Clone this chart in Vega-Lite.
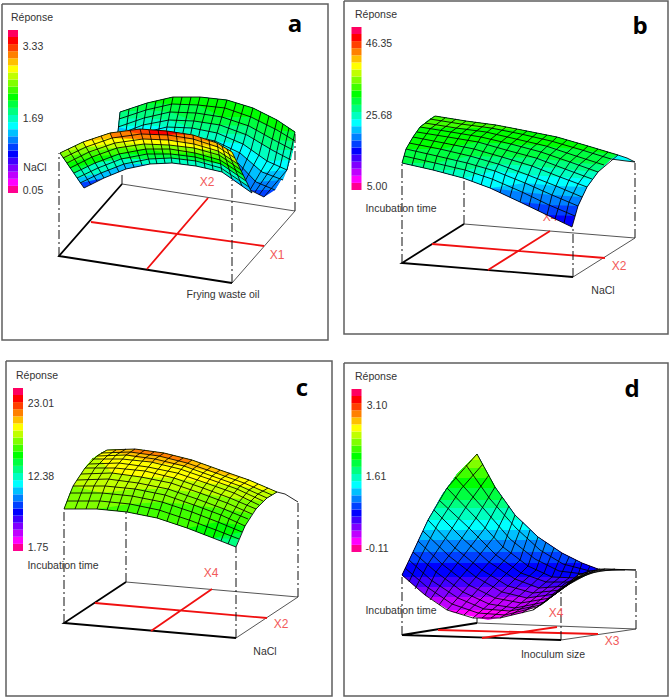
{"$schema":"https://vega.github.io/schema/vega-lite/v6.json","width":669,"height":698,"padding":0,"autosize":"none","background":"#ffffff","view":{"stroke":null},"projection":{"type":"identity","scale":1,"translate":[0,0]},
"layer":[
{"data":{"values":[{"panel":"a","geo":{"type":"LineString","coordinates":[[2,4],[328,4],[328,340],[2,340],[2,4]]}},{"panel":"b","geo":{"type":"LineString","coordinates":[[344,1],[668,1],[668,334],[344,334],[344,1]]}},{"panel":"c","geo":{"type":"LineString","coordinates":[[6,361],[332,361],[332,696],[6,696],[6,361]]}},{"panel":"d","geo":{"type":"LineString","coordinates":[[344,363],[668,363],[668,696],[344,696],[344,363]]}}]},"mark":{"type":"geoshape","filled":false,"stroke":"#5f5f5f","strokeWidth":1.5},"encoding":{"shape":{"field":"geo","type":"geojson"}}},
{"data":{"values":[{"panel":"a","geo":{"type":"MultiLineString","coordinates":[[[122,184],[295,211],[232,283]]]}},{"panel":"b","geo":{"type":"MultiLineString","coordinates":[[[464,224],[635,238],[573,277]]]}},{"panel":"c","geo":{"type":"MultiLineString","coordinates":[[[126,582],[298,597],[236,638]]]}},{"panel":"d","geo":{"type":"MultiLineString","coordinates":[[[477,623],[636,629],[561,640]]]}}]},"mark":{"type":"geoshape","filled":false,"stroke":"#555555","strokeWidth":1},"encoding":{"shape":{"field":"geo","type":"geojson"}}},
{"data":{"values":[{"panel":"a","geo":{"type":"LineString","coordinates":[[122,184],[59,256],[232,283]]}},{"panel":"b","geo":{"type":"LineString","coordinates":[[464,224],[402,263],[573,277]]}},{"panel":"c","geo":{"type":"LineString","coordinates":[[126,582],[64,623],[236,638]]}},{"panel":"d","geo":{"type":"LineString","coordinates":[[477,623],[402,635],[561,640]]}}]},"mark":{"type":"geoshape","filled":false,"stroke":"#000000","strokeWidth":1.8},"encoding":{"shape":{"field":"geo","type":"geojson"}}},
{"data":{"values":[{"panel":"a","geo":{"type":"MultiLineString","coordinates":[[[91,222],[264,246]],[[208,198],[147,269]]]}},{"panel":"b","geo":{"type":"MultiLineString","coordinates":[[[432,244],[605,258]],[[550,231],[488,270]]]}},{"panel":"c","geo":{"type":"MultiLineString","coordinates":[[[95,603],[267,618]],[[212,589],[151,631]]]}},{"panel":"d","geo":{"type":"MultiLineString","coordinates":[[[438,630],[598,634]],[[557,627],[482,638]]]}}]},"mark":{"type":"geoshape","filled":false,"stroke":"#f01010","strokeWidth":1.8},"encoding":{"shape":{"field":"geo","type":"geojson"}}},
{"data":{"values":[{"panel":"a","geo":{"type":"MultiLineString","coordinates":[[[59,256],[59,153]],[[232,283],[232,180]],[[295,211],[295,132]],[[122,184],[122,172]]]}},{"panel":"b","geo":{"type":"MultiLineString","coordinates":[[[402,263],[402,163]],[[573,277],[573,227]],[[635,238],[635,163]],[[464,224],[464,177]]]}},{"panel":"c","geo":{"type":"MultiLineString","coordinates":[[[64,623],[64,509]],[[236,638],[236,547]],[[298,597],[298,502]],[[126,582],[126,512]]]}},{"panel":"d","geo":{"type":"MultiLineString","coordinates":[[[402,635],[402,577]],[[561,640],[561,592]],[[636,629],[636,571]],[[477,623],[477,618]]]}}]},"mark":{"type":"geoshape","filled":false,"stroke":"#111111","strokeWidth":1,"strokeDash":[9,3,2,3]},"encoding":{"shape":{"field":"geo","type":"geojson"}}},
{"data":{"values":[{"t":"X1","x":277,"y":255},{"t":"X2","x":207,"y":182},{"t":"X4","x":550,"y":217},{"t":"X2","x":619,"y":266},{"t":"X4","x":211,"y":573},{"t":"X2","x":281,"y":624},{"t":"X4","x":556,"y":613},{"t":"X3","x":612,"y":641}]},"mark":{"type":"text","font":"Liberation Sans","fontSize":12,"color":"#f25a5a","align":"center","baseline":"middle"},"encoding":{"longitude":{"field":"x","type":"quantitative"},"latitude":{"field":"y","type":"quantitative"},"text":{"field":"t"}}},
{"data":{"values":[
{"level":6,"geo":{"type":"Polygon","coordinates":[[[120,112],[147,103],[173,97],[200,97],[227,100],[253,108],[277,120],[295,132],[293,150],[287,170],[275,190],[264,197],[250,190],[233,170],[210,158],[187,152],[163,150],[138,155],[114,165],[120,112]]]}},
{"level":7,"geo":{"type":"Polygon","coordinates":[[[120,112],[147,103],[173,97],[200,97],[227,100],[253,108],[277,120],[295,132],[293,150],[287,170],[275,190],[250,190],[233,170],[210,158],[187,152],[163,150],[138,155],[114,165],[120,112]]]}},
{"level":8,"geo":{"type":"Polygon","coordinates":[[[120,112],[147,103],[173,97],[200,97],[227,100],[253,108],[277,120],[295,132],[293,150],[287,170],[283,180],[256,182],[236,161],[210,158],[187,152],[164,142],[141,140],[117,135],[120,112]]]}},
{"level":9,"geo":{"type":"Polygon","coordinates":[[[120,112],[147,103],[173,97],[200,97],[227,100],[253,108],[277,120],[295,132],[293,150],[287,170],[262,172],[240,153],[212,149],[189,144],[166,135],[142,133],[118,127],[120,112]]]}},
{"level":10,"geo":{"type":"Polygon","coordinates":[[[120,112],[147,103],[173,97],[200,97],[227,100],[253,108],[277,120],[295,132],[293,150],[291,160],[267,161],[243,144],[215,141],[191,136],[167,127],[143,125],[118,127],[120,112]]]}},
{"level":11,"geo":{"type":"Polygon","coordinates":[[[120,112],[147,103],[173,97],[200,97],[227,100],[253,108],[277,120],[295,132],[293,150],[272,150],[247,135],[217,133],[192,128],[169,120],[144,118],[119,119],[120,112]]]}},
{"level":12,"geo":{"type":"Polygon","coordinates":[[[120,112],[147,103],[173,97],[200,97],[227,100],[253,108],[277,120],[295,132],[295,141],[274,140],[249,126],[220,125],[194,121],[170,112],[146,110],[120,112]]]}},
{"level":13,"geo":{"type":"Polygon","coordinates":[[[147,103],[173,97],[200,97],[227,100],[253,108],[277,120],[295,132],[277,130],[251,117],[222,117],[198,105],[172,104],[147,103]]]}}
]},"mark":{"type":"geoshape","stroke":null},"encoding":{"shape":{"field":"geo","type":"geojson"},"color":{"field":"level","type":"ordinal","legend":null,"scale":{"domain":[0,1,2,3,4,5,6,7,8,9,10,11,12,13,14,15,16,17,18,19,20,21,22],"range":["#ff0090","#ff00ff","#c000ff","#8000ff","#4000ff","#0000ff","#0040ff","#0080ff","#00c0ff","#00ffff","#00ffc0","#00ff80","#00ff40","#00ff00","#40ff00","#80ff00","#c0ff00","#ffff00","#ffc000","#ff8000","#ff4000","#ff0000","#ff0060"]}}}},
{"data":{"values":[{"panel":"a","part":"back","geo":{"type":"MultiLineString","coordinates":[
[[120,112],[147,103],[173,97],[200,97],[227,100],[253,108],[277,120],[295,132]],
[[119,119],[146,110],[172,104],[198,105],[225,108],[251,117],[277,130],[295,141]],
[[118,127],[144,118],[170,112],[196,113],[222,117],[249,126],[274,140],[293,150]],
[[117,135],[143,125],[169,120],[194,121],[220,125],[247,135],[272,150],[291,160]],
[[117,142],[142,133],[167,127],[192,128],[217,133],[243,144],[267,161],[287,170]],
[[116,150],[141,140],[166,135],[191,136],[215,141],[240,153],[262,172],[283,180]],
[[115,157],[139,147],[164,142],[189,144],[212,149],[236,161],[256,182],[275,190]],
[[114,165],[138,155],[163,150],[187,152],[210,158],[233,170],[250,190],[264,197]],
[[120,112],[117,142],[114,165]],[[129,109],[125,139],[122,162]],[[138,106],[134,136],[130,158]],[[147,103],[142,133],[138,155]],[[156,101],[150,131],[146,153]],[[164,99],[159,129],[155,152]],[[173,97],[167,127],[163,150]],[[182,97],[175,127],[171,151]],[[191,97],[184,128],[179,151]],[[200,97],[192,128],[187,152]],[[209,98],[200,130],[195,154]],[[218,99],[209,131],[202,156]],[[227,100],[217,133],[210,158]],[[236,103],[226,137],[218,162]],[[244,105],[234,140],[225,166]],[[253,108],[243,144],[233,170]],[[261,112],[251,150],[239,177]],[[269,116],[259,155],[244,183]],[[277,120],[267,161],[250,190]],[[283,124],[274,164],[255,192]],[[289,128],[280,167],[259,195]],[[295,132],[287,170],[264,197]]
]}}]},"mark":{"type":"geoshape","filled":false,"stroke":"#000000","strokeWidth":1,"strokeOpacity":0.85},"encoding":{"shape":{"field":"geo","type":"geojson"}}},
{"data":{"values":[
{"level":6,"geo":{"type":"Polygon","coordinates":[[[60,153],[83,142],[110,133],[140,129],[167,131],[193,135],[217,143],[232,152],[252,193],[222,172],[196,166],[172,163],[150,164],[126,169],[104,178],[84,188],[60,153]]]}},
{"level":8,"geo":{"type":"Polygon","coordinates":[[[60,153],[83,142],[110,133],[140,129],[167,131],[193,135],[217,143],[232,152],[252,193],[222,172],[196,166],[172,163],[150,164],[126,169],[104,178],[80,183],[60,153]]]}},
{"level":10,"geo":{"type":"Polygon","coordinates":[[[60,153],[83,142],[110,133],[140,129],[167,131],[193,135],[217,143],[232,152],[249,187],[222,172],[196,166],[172,163],[150,164],[124,164],[101,173],[77,178],[60,153]]]}},
{"level":12,"geo":{"type":"Polygon","coordinates":[[[60,153],[83,142],[110,133],[140,129],[167,131],[193,135],[217,143],[232,152],[246,181],[221,164],[196,161],[171,158],[149,159],[121,159],[95,163],[74,173],[60,153]]]}},
{"level":13,"geo":{"type":"Polygon","coordinates":[[[60,153],[83,142],[110,133],[140,129],[167,131],[193,135],[217,143],[232,152],[243,175],[221,164],[195,157],[171,154],[147,154],[119,154],[95,163],[70,168],[60,153]]]}},
{"level":14,"geo":{"type":"Polygon","coordinates":[[[60,153],[83,142],[110,133],[140,129],[167,131],[193,135],[217,143],[232,152],[241,170],[220,160],[195,153],[171,154],[146,149],[119,154],[92,157],[67,163],[60,153]]]}},
{"level":15,"geo":{"type":"Polygon","coordinates":[[[60,153],[83,142],[110,133],[140,129],[167,131],[193,135],[217,143],[232,152],[238,164],[219,155],[195,153],[170,149],[146,149],[117,148],[89,152],[63,158],[60,153]]]}},
{"level":16,"geo":{"type":"Polygon","coordinates":[[[60,153],[83,142],[110,133],[140,129],[167,131],[193,135],[217,143],[232,152],[238,164],[218,151],[194,148],[169,145],[144,144],[117,148],[86,147],[60,153]]]}},
{"level":17,"geo":{"type":"Polygon","coordinates":[[[83,142],[110,133],[140,129],[167,131],[193,135],[217,143],[232,152],[235,158],[218,151],[194,148],[169,145],[144,144],[115,143],[86,147],[83,142]]]}},
{"level":18,"geo":{"type":"Polygon","coordinates":[[[83,142],[110,133],[140,129],[167,131],[193,135],[217,143],[232,152],[218,147],[194,144],[168,140],[143,139],[112,138],[83,142]]]}},
{"level":19,"geo":{"type":"Polygon","coordinates":[[[110,133],[140,129],[167,131],[193,135],[217,143],[193,139],[168,140],[143,139],[112,138],[110,133]]]}},
{"level":20,"geo":{"type":"Polygon","coordinates":[[[125,131],[140,129],[167,131],[193,135],[168,135],[141,134],[125,131]]]}},
{"level":21,"geo":{"type":"Polygon","coordinates":[[[150,130],[167,131],[180,133],[168,135],[150,134],[150,130]]]}},
{"level":5,"geo":{"type":"Polygon","coordinates":[[[435,116],[466,121],[496,125],[527,131],[557,137],[588,146],[618,155],[611,159],[598,172],[587,187],[578,206],[572,227],[547,215],[520,202],[490,188],[463,178],[433,170],[402,163],[406,149],[413,137],[420,127],[430,119],[435,116]]]}},
{"level":6,"geo":{"type":"Polygon","coordinates":[[[435,116],[466,121],[496,125],[527,131],[557,137],[588,146],[618,155],[611,159],[598,172],[587,187],[578,206],[575,216],[547,215],[520,202],[490,188],[463,178],[433,170],[402,163],[406,149],[413,137],[420,127],[430,119],[435,116]]]}},
{"level":7,"geo":{"type":"Polygon","coordinates":[[[435,116],[466,121],[496,125],[527,131],[557,137],[588,146],[618,155],[611,159],[598,172],[587,187],[578,206],[549,205],[520,202],[490,188],[463,178],[433,170],[402,163],[406,149],[413,137],[420,127],[430,119],[435,116]]]}},
{"level":8,"geo":{"type":"Polygon","coordinates":[[[435,116],[466,121],[496,125],[527,131],[557,137],[588,146],[618,155],[611,159],[598,172],[587,187],[582,197],[552,195],[522,192],[490,188],[463,178],[433,170],[402,163],[406,149],[413,137],[420,127],[430,119],[435,116]]]}},
{"level":9,"geo":{"type":"Polygon","coordinates":[[[435,116],[466,121],[496,125],[527,131],[557,137],[588,146],[618,155],[611,159],[598,172],[587,187],[556,186],[525,183],[490,188],[463,178],[433,170],[402,163],[406,149],[413,137],[420,127],[430,119],[435,116]]]}},
{"level":10,"geo":{"type":"Polygon","coordinates":[[[435,116],[466,121],[496,125],[527,131],[557,137],[588,146],[618,155],[611,159],[598,172],[592,179],[560,177],[528,175],[495,171],[463,178],[433,170],[402,163],[406,149],[413,137],[420,127],[430,119],[435,116]]]}},
{"level":11,"geo":{"type":"Polygon","coordinates":[[[435,116],[466,121],[496,125],[527,131],[557,137],[588,146],[618,155],[611,159],[598,172],[565,169],[532,166],[498,164],[465,170],[433,170],[402,163],[406,149],[413,137],[420,127],[430,119],[435,116]]]}},
{"level":12,"geo":{"type":"Polygon","coordinates":[[[435,116],[466,121],[496,125],[527,131],[557,137],[588,146],[618,155],[611,159],[604,165],[570,162],[536,158],[502,157],[470,156],[435,163],[402,163],[406,149],[413,137],[420,127],[430,119],[435,116]]]}},
{"level":13,"geo":{"type":"Polygon","coordinates":[[[435,116],[466,121],[496,125],[527,131],[557,137],[588,146],[618,155],[582,150],[546,146],[511,144],[478,142],[440,149],[406,149],[413,137],[420,127],[430,119],[435,116]]]}},
{"level":14,"geo":{"type":"Polygon","coordinates":[[[435,116],[466,121],[496,125],[527,131],[491,128],[456,128],[420,127],[430,119],[435,116]]]}},
{"level":9,"geo":{"type":"Polygon","coordinates":[[[618,155],[627,158],[635,162],[626,161],[611,159],[618,155]]]}},
{"level":11,"geo":{"type":"Polygon","coordinates":[[[107,450],[135,449],[164,453],[192,460],[220,470],[249,480],[277,492],[267,498],[259,505],[252,514],[245,526],[239,539],[236,547],[213,538],[187,528],[157,518],[127,512],[97,509],[64,509],[70,493],[77,480],[85,468],[92,459],[101,453],[107,450]]]}},
{"level":12,"geo":{"type":"Polygon","coordinates":[[[107,450],[135,449],[164,453],[192,460],[220,470],[249,480],[277,492],[267,498],[259,505],[252,514],[245,526],[239,539],[213,538],[187,528],[157,518],[127,512],[97,509],[64,509],[70,493],[77,480],[85,468],[92,459],[101,453],[107,450]]]}},
{"level":13,"geo":{"type":"Polygon","coordinates":[[[107,450],[135,449],[164,453],[192,460],[220,470],[249,480],[277,492],[267,498],[259,505],[252,514],[245,526],[242,532],[213,538],[187,528],[157,518],[127,512],[97,509],[64,509],[70,493],[77,480],[85,468],[92,459],[101,453],[107,450]]]}},
{"level":14,"geo":{"type":"Polygon","coordinates":[[[107,450],[135,449],[164,453],[192,460],[220,470],[249,480],[277,492],[267,498],[259,505],[252,514],[245,526],[218,522],[187,528],[157,518],[127,512],[97,509],[64,509],[70,493],[77,480],[85,468],[92,459],[101,453],[107,450]]]}},
{"level":15,"geo":{"type":"Polygon","coordinates":[[[107,450],[135,449],[164,453],[192,460],[220,470],[249,480],[277,492],[267,498],[259,505],[252,514],[224,509],[194,505],[162,502],[130,504],[97,509],[64,509],[70,493],[77,480],[85,468],[92,459],[101,453],[107,450]]]}},
{"level":16,"geo":{"type":"Polygon","coordinates":[[[107,450],[135,449],[164,453],[192,460],[220,470],[249,480],[277,492],[267,498],[263,501],[230,498],[200,493],[168,489],[135,489],[102,493],[73,486],[77,480],[85,468],[92,459],[101,453],[107,450]]]}},
{"level":17,"geo":{"type":"Polygon","coordinates":[[[107,450],[135,449],[164,453],[192,460],[220,470],[249,480],[277,492],[240,486],[206,483],[174,478],[141,477],[112,473],[97,456],[101,453],[107,450]]]}},
{"level":18,"geo":{"type":"Polygon","coordinates":[[[107,450],[135,449],[164,453],[192,460],[220,470],[249,480],[216,473],[184,466],[151,462],[126,455],[107,450]]]}},
{"level":19,"geo":{"type":"Polygon","coordinates":[[[135,449],[164,453],[192,460],[187,463],[159,456],[130,452],[135,449]]]}},
{"level":1,"geo":{"type":"Polygon","coordinates":[[[402,575],[425,595],[452,612],[488,620],[522,613],[545,602],[561,590],[578,575],[598,569],[635,570],[598,569],[582,563],[562,553],[538,537],[515,515],[495,487],[477,454],[458,473],[442,495],[428,520],[413,552],[402,575]]]}},
{"level":2,"geo":{"type":"Polygon","coordinates":[[[449,610],[528,610],[545,602],[561,590],[578,575],[598,569],[635,570],[598,569],[582,563],[562,553],[538,537],[515,515],[495,487],[477,454],[458,473],[442,495],[428,520],[413,552],[402,575],[425,595],[449,610]]]}},
{"level":3,"geo":{"type":"Polygon","coordinates":[[[428,597],[552,597],[561,590],[578,575],[598,569],[635,570],[598,569],[582,563],[562,553],[538,537],[515,515],[495,487],[477,454],[458,473],[442,495],[428,520],[413,552],[402,575],[425,595],[428,597]]]}},
{"level":4,"geo":{"type":"Polygon","coordinates":[[[416,587],[564,587],[578,575],[598,569],[635,570],[598,569],[582,563],[562,553],[538,537],[515,515],[495,487],[477,454],[458,473],[442,495],[428,520],[413,552],[402,575],[416,587]]]}},
{"level":5,"geo":{"type":"Polygon","coordinates":[[[404,577],[576,577],[578,575],[598,569],[635,570],[598,569],[582,563],[562,553],[538,537],[515,515],[495,487],[477,454],[458,473],[442,495],[428,520],[413,552],[402,575],[404,577]]]}},
{"level":6,"geo":{"type":"Polygon","coordinates":[[[408,563],[582,563],[562,553],[538,537],[515,515],[495,487],[477,454],[458,473],[442,495],[428,520],[413,552],[408,563]]]}},
{"level":7,"geo":{"type":"Polygon","coordinates":[[[413,552],[560,552],[538,537],[515,515],[495,487],[477,454],[458,473],[442,495],[428,520],[413,552]]]}},
{"level":8,"geo":{"type":"Polygon","coordinates":[[[419,540],[542,540],[538,537],[515,515],[495,487],[477,454],[458,473],[442,495],[428,520],[419,540]]]}},
{"level":9,"geo":{"type":"Polygon","coordinates":[[[423,530],[531,530],[515,515],[495,487],[477,454],[458,473],[442,495],[428,520],[423,530]]]}},
{"level":10,"geo":{"type":"Polygon","coordinates":[[[428,520],[519,520],[515,515],[495,487],[477,454],[458,473],[442,495],[428,520]]]}},
{"level":11,"geo":{"type":"Polygon","coordinates":[[[435,508],[510,508],[495,487],[477,454],[458,473],[442,495],[435,508]]]}},
{"level":12,"geo":{"type":"Polygon","coordinates":[[[439,500],[504,500],[495,487],[477,454],[458,473],[442,495],[439,500]]]}},
{"level":13,"geo":{"type":"Polygon","coordinates":[[[447,488],[496,488],[477,454],[458,473],[447,488]]]}},
{"level":14,"geo":{"type":"Polygon","coordinates":[[[454,478],[490,478],[477,454],[458,473],[454,478]]]}},
{"level":15,"geo":{"type":"Polygon","coordinates":[[[463,468],[484,468],[477,454],[463,468]]]}},
{"level":16,"geo":{"type":"Polygon","coordinates":[[[471,460],[480,460],[477,454],[471,460]]]}}
]},"mark":{"type":"geoshape","stroke":null},"encoding":{"shape":{"field":"geo","type":"geojson"},"color":{"field":"level","type":"ordinal","legend":null,"scale":{"domain":[0,1,2,3,4,5,6,7,8,9,10,11,12,13,14,15,16,17,18,19,20,21,22],"range":["#ff0090","#ff00ff","#c000ff","#8000ff","#4000ff","#0000ff","#0040ff","#0080ff","#00c0ff","#00ffff","#00ffc0","#00ff80","#00ff40","#00ff00","#40ff00","#80ff00","#c0ff00","#ffff00","#ffc000","#ff8000","#ff4000","#ff0000","#ff0060"]}}}},
{"data":{"values":[
{"panel":"a","geo":{"type":"MultiLineString","coordinates":[
[[60,153],[83,142],[110,133],[140,129],[167,131],[193,135],[217,143],[232,152]],
[[63,158],[86,147],[112,138],[141,134],[168,135],[193,139],[218,147],[235,158]],
[[67,163],[89,152],[115,143],[143,139],[168,140],[194,144],[218,151],[238,164]],
[[70,168],[92,157],[117,148],[144,144],[169,145],[194,148],[219,155],[241,170]],
[[74,173],[95,163],[119,154],[146,149],[170,149],[195,153],[220,160],[243,175]],
[[77,178],[98,168],[121,159],[147,154],[171,154],[195,157],[221,164],[246,181]],
[[80,183],[101,173],[124,164],[149,159],[171,158],[196,161],[221,168],[249,187]],
[[84,188],[104,178],[126,169],[150,164],[172,163],[196,166],[222,172],[252,193]],
[[60,153],[84,188]],[[68,149],[91,185]],[[75,146],[97,181]],[[83,142],[104,178]],[[92,139],[111,175]],[[101,136],[119,172]],[[110,133],[126,169]],[[120,132],[134,167]],[[130,130],[142,165]],[[140,129],[150,164]],[[149,130],[157,164]],[[158,130],[165,163]],[[167,131],[172,163]],[[176,132],[180,164]],[[184,133],[188,165]],[[193,135],[196,166]],[[201,138],[205,168]],[[209,140],[213,170]],[[217,143],[222,172]],[[222,146],[232,179]],[[227,149],[242,186]],[[232,152],[252,193]]
]}},
{"panel":"b","geo":{"type":"MultiLineString","coordinates":[
[[402,163],[433,170],[463,178],[490,188],[520,202],[547,215],[572,227]],
[[404,156],[435,163],[465,170],[492,179],[522,192],[549,205],[575,216]],
[[406,149],[437,156],[467,163],[495,171],[525,183],[552,195],[578,206]],
[[409,143],[440,149],[470,156],[498,164],[528,175],[556,186],[582,197]],
[[413,137],[444,143],[474,149],[502,157],[532,166],[560,177],[587,187]],
[[417,132],[448,137],[478,142],[506,150],[536,158],[565,169],[592,179]],
[[420,127],[451,132],[481,137],[511,144],[541,152],[570,162],[598,172]],
[[425,123],[456,128],[486,132],[516,139],[546,146],[576,156],[604,165]],
[[430,119],[461,124],[491,128],[521,134],[551,141],[582,150],[611,159]],
[[435,116],[466,121],[496,125],[527,131],[557,137],[588,146],[618,155],[627,158],[635,162],[626,161],[611,159]],
[[402,163],[406,149],[413,137],[420,127],[435,116]],[[412,165],[416,151],[423,139],[430,129],[445,118]],[[423,168],[427,154],[434,141],[441,130],[456,119]],[[433,170],[437,156],[444,143],[451,132],[466,121]],[[443,173],[447,158],[454,145],[461,134],[476,122]],[[453,175],[457,161],[464,147],[471,135],[486,124]],[[463,178],[467,163],[474,149],[481,137],[496,125]],[[472,181],[476,166],[483,152],[491,139],[506,127]],[[481,185],[486,168],[493,154],[501,142],[517,129]],[[490,188],[495,171],[502,157],[511,144],[527,131]],[[500,193],[505,175],[512,160],[521,147],[537,133]],[[510,197],[515,179],[522,163],[531,149],[547,135]],[[520,202],[525,183],[532,166],[541,152],[557,137]],[[529,206],[534,187],[541,170],[550,155],[567,140]],[[538,211],[543,191],[551,173],[560,159],[578,143]],[[547,215],[552,195],[560,177],[570,162],[588,146]],[[555,219],[561,199],[569,180],[579,165],[598,149]],[[564,223],[569,202],[578,184],[589,169],[608,152]],[[572,227],[578,206],[587,187],[598,172],[618,155]]
]}},
{"panel":"c","geo":{"type":"MultiLineString","coordinates":[
[[64,509],[97,509],[127,512],[157,518],[187,528],[213,538],[236,547]],
[[67,501],[100,501],[130,504],[159,510],[189,520],[216,530],[239,539]],
[[70,493],[102,493],[132,496],[162,502],[192,512],[218,522],[242,532]],
[[73,486],[105,486],[135,489],[165,495],[194,505],[221,515],[245,526]],
[[77,480],[108,479],[138,483],[168,489],[197,499],[224,509],[248,519]],
[[81,474],[112,473],[141,477],[171,483],[200,493],[227,503],[252,514]],
[[85,468],[115,468],[145,471],[174,478],[203,488],[230,498],[256,509]],
[[89,464],[119,463],[148,467],[177,473],[206,483],[234,493],[259,505]],
[[92,459],[122,459],[151,462],[180,469],[209,479],[237,489],[263,501]],
[[97,456],[126,455],[155,459],[184,466],[212,476],[240,486],[267,498]],
[[101,453],[130,452],[159,456],[187,463],[216,473],[244,483],[272,495]],
[[107,450],[135,449],[164,453],[192,460],[220,470],[249,480],[277,492],[285,494],[298,502]],
[[64,509],[73,486],[85,468],[97,456],[107,450]],[[75,509],[84,486],[95,468],[107,456],[116,450]],[[86,509],[94,486],[105,468],[116,455],[126,449]],[[97,509],[105,486],[115,468],[126,455],[135,449]],[[107,510],[115,487],[125,469],[136,456],[145,450]],[[117,511],[125,488],[135,470],[145,458],[154,452]],[[127,512],[135,489],[145,471],[155,459],[164,453]],[[137,514],[145,491],[155,473],[165,461],[173,455]],[[147,516],[155,493],[164,476],[174,464],[183,458]],[[157,518],[165,495],[174,478],[184,466],[192,460]],[[167,521],[175,498],[184,481],[193,469],[201,463]],[[177,525],[184,502],[193,485],[203,473],[211,467]],[[187,528],[194,505],[203,488],[212,476],[220,470]],[[196,531],[203,508],[212,491],[221,479],[230,473]],[[204,535],[212,512],[221,495],[231,483],[239,477]],[[213,538],[221,515],[230,498],[240,486],[249,480]],[[221,541],[229,519],[239,502],[249,490],[258,484]],[[228,544],[237,522],[247,505],[258,494],[268,488]],[[236,547],[245,526],[256,509],[267,498],[277,492]]
]}},
{"panel":"d","geo":{"type":"MultiLineString","coordinates":[
[[402,575],[425,595],[447,610],[473,618],[500,618],[533,610],[561,590]],
[[405,568],[427,587],[452,604],[478,613],[505,615],[537,607],[568,585]],
[[409,560],[431,580],[458,598],[484,609],[510,611],[541,605],[573,580]],
[[413,552],[436,572],[463,592],[489,604],[515,608],[545,602],[578,575]],
[[418,541],[442,564],[469,585],[495,598],[521,603],[550,598],[582,574]],
[[423,531],[449,556],[476,577],[502,592],[527,598],[555,594],[586,572]],
[[428,520],[455,548],[482,570],[508,586],[533,593],[560,590],[590,571]],
[[434,510],[462,538],[489,562],[515,579],[539,588],[566,586],[595,570]],
[[439,500],[469,528],[496,555],[521,573],[546,582],[571,582],[600,569]],
[[447,488],[476,518],[503,547],[528,566],[552,577],[577,578],[605,569]],
[[455,477],[484,509],[510,539],[535,559],[559,571],[584,574],[615,569]],
[[466,465],[490,499],[516,528],[540,550],[563,564],[590,571],[625,570]],
[[477,454],[495,487],[515,515],[538,537],[562,553],[582,563],[598,569],[636,570]],
[[402,575],[413,552],[428,520],[447,488],[477,454]],[[409,582],[421,556],[438,524],[461,489],[483,464]],[[415,589],[428,564],[447,536],[468,504],[489,475]],[[425,595],[436,572],[455,548],[476,518],[495,487]],[[430,600],[445,579],[464,555],[485,528],[502,497]],[[439,605],[454,585],[473,563],[494,537],[509,506]],[[447,610],[463,592],[482,570],[503,547],[515,515]],[[456,613],[472,596],[491,575],[511,553],[523,522]],[[464,615],[480,600],[499,581],[520,560],[530,530]],[[473,618],[489,604],[508,586],[528,566],[538,537]],[[482,618],[498,605],[516,588],[536,570],[546,542]],[[491,618],[506,607],[525,591],[544,573],[554,548]],[[500,618],[515,608],[533,593],[552,577],[562,553]],[[511,615],[525,606],[542,592],[560,577],[569,557]],[[522,613],[535,604],[551,591],[569,578],[576,560]],[[533,610],[545,602],[560,590],[577,578],[582,563]],[[543,603],[554,593],[569,583],[586,574],[590,566]],[[552,597],[564,584],[578,577],[596,570],[598,569]],[[561,590],[578,575],[590,571],[605,569],[636,570]]
]}}
]},"mark":{"type":"geoshape","filled":false,"stroke":"#000000","strokeWidth":1,"strokeOpacity":0.85},"encoding":{"shape":{"field":"geo","type":"geojson"}}},
{"data":{"values":[
{"level":0,"x":13,"y":193,"y2":185.9},{"level":1,"x":13,"y":185.9,"y2":178.8},{"level":2,"x":13,"y":178.8,"y2":171.7},{"level":3,"x":13,"y":171.7,"y2":164.7},{"level":4,"x":13,"y":164.7,"y2":157.6},{"level":5,"x":13,"y":157.6,"y2":150.5},{"level":6,"x":13,"y":150.5,"y2":143.4},{"level":7,"x":13,"y":143.4,"y2":136.3},{"level":8,"x":13,"y":136.3,"y2":129.2},{"level":9,"x":13,"y":129.2,"y2":122.1},{"level":10,"x":13,"y":122.1,"y2":115},{"level":11,"x":13,"y":115,"y2":107.9},{"level":12,"x":13,"y":107.9,"y2":100.8},{"level":13,"x":13,"y":100.8,"y2":93.7},{"level":14,"x":13,"y":93.7,"y2":86.7},{"level":15,"x":13,"y":86.7,"y2":79.6},{"level":16,"x":13,"y":79.6,"y2":72.5},{"level":17,"x":13,"y":72.5,"y2":65.4},{"level":18,"x":13,"y":65.4,"y2":58.3},{"level":19,"x":13,"y":58.3,"y2":51.2},{"level":20,"x":13,"y":51.2,"y2":44.1},{"level":21,"x":13,"y":44.1,"y2":37},{"level":22,"x":13,"y":37,"y2":30},
{"level":0,"x":356.5,"y":190,"y2":182.9},{"level":1,"x":356.5,"y":182.9,"y2":175.8},{"level":2,"x":356.5,"y":175.8,"y2":168.7},{"level":3,"x":356.5,"y":168.7,"y2":161.7},{"level":4,"x":356.5,"y":161.7,"y2":154.6},{"level":5,"x":356.5,"y":154.6,"y2":147.5},{"level":6,"x":356.5,"y":147.5,"y2":140.4},{"level":7,"x":356.5,"y":140.4,"y2":133.3},{"level":8,"x":356.5,"y":133.3,"y2":126.2},{"level":9,"x":356.5,"y":126.2,"y2":119.1},{"level":10,"x":356.5,"y":119.1,"y2":112},{"level":11,"x":356.5,"y":112,"y2":104.9},{"level":12,"x":356.5,"y":104.9,"y2":97.8},{"level":13,"x":356.5,"y":97.8,"y2":90.7},{"level":14,"x":356.5,"y":90.7,"y2":83.7},{"level":15,"x":356.5,"y":83.7,"y2":76.6},{"level":16,"x":356.5,"y":76.6,"y2":69.5},{"level":17,"x":356.5,"y":69.5,"y2":62.4},{"level":18,"x":356.5,"y":62.4,"y2":55.3},{"level":19,"x":356.5,"y":55.3,"y2":48.2},{"level":20,"x":356.5,"y":48.2,"y2":41.1},{"level":21,"x":356.5,"y":41.1,"y2":34},{"level":22,"x":356.5,"y":34,"y2":27},
{"level":0,"x":18,"y":551,"y2":543.9},{"level":1,"x":18,"y":543.9,"y2":536.8},{"level":2,"x":18,"y":536.8,"y2":529.7},{"level":3,"x":18,"y":529.7,"y2":522.7},{"level":4,"x":18,"y":522.7,"y2":515.6},{"level":5,"x":18,"y":515.6,"y2":508.5},{"level":6,"x":18,"y":508.5,"y2":501.4},{"level":7,"x":18,"y":501.4,"y2":494.3},{"level":8,"x":18,"y":494.3,"y2":487.2},{"level":9,"x":18,"y":487.2,"y2":480.1},{"level":10,"x":18,"y":480.1,"y2":473},{"level":11,"x":18,"y":473,"y2":465.9},{"level":12,"x":18,"y":465.9,"y2":458.8},{"level":13,"x":18,"y":458.8,"y2":451.7},{"level":14,"x":18,"y":451.7,"y2":444.7},{"level":15,"x":18,"y":444.7,"y2":437.6},{"level":16,"x":18,"y":437.6,"y2":430.5},{"level":17,"x":18,"y":430.5,"y2":423.4},{"level":18,"x":18,"y":423.4,"y2":416.3},{"level":19,"x":18,"y":416.3,"y2":409.2},{"level":20,"x":18,"y":409.2,"y2":402.1},{"level":21,"x":18,"y":402.1,"y2":395},{"level":22,"x":18,"y":395,"y2":388},
{"level":0,"x":356.5,"y":552,"y2":544.9},{"level":1,"x":356.5,"y":544.9,"y2":537.8},{"level":2,"x":356.5,"y":537.8,"y2":530.7},{"level":3,"x":356.5,"y":530.7,"y2":523.7},{"level":4,"x":356.5,"y":523.7,"y2":516.6},{"level":5,"x":356.5,"y":516.6,"y2":509.5},{"level":6,"x":356.5,"y":509.5,"y2":502.4},{"level":7,"x":356.5,"y":502.4,"y2":495.3},{"level":8,"x":356.5,"y":495.3,"y2":488.2},{"level":9,"x":356.5,"y":488.2,"y2":481.1},{"level":10,"x":356.5,"y":481.1,"y2":474},{"level":11,"x":356.5,"y":474,"y2":466.9},{"level":12,"x":356.5,"y":466.9,"y2":459.8},{"level":13,"x":356.5,"y":459.8,"y2":452.7},{"level":14,"x":356.5,"y":452.7,"y2":445.7},{"level":15,"x":356.5,"y":445.7,"y2":438.6},{"level":16,"x":356.5,"y":438.6,"y2":431.5},{"level":17,"x":356.5,"y":431.5,"y2":424.4},{"level":18,"x":356.5,"y":424.4,"y2":417.3},{"level":19,"x":356.5,"y":417.3,"y2":410.2},{"level":20,"x":356.5,"y":410.2,"y2":403.1},{"level":21,"x":356.5,"y":403.1,"y2":396},{"level":22,"x":356.5,"y":396,"y2":389}
]},"mark":{"type":"rule","strokeWidth":10},"encoding":{"longitude":{"field":"x","type":"quantitative"},"latitude":{"field":"y","type":"quantitative"},"longitude2":{"field":"x"},"latitude2":{"field":"y2"},"color":{"field":"level","type":"ordinal","legend":null,"scale":{"domain":[0,1,2,3,4,5,6,7,8,9,10,11,12,13,14,15,16,17,18,19,20,21,22],"range":["#ff0090","#ff00ff","#c000ff","#8000ff","#4000ff","#0000ff","#0040ff","#0080ff","#00c0ff","#00ffff","#00ffc0","#00ff80","#00ff40","#00ff00","#40ff00","#80ff00","#c0ff00","#ffff00","#ffc000","#ff8000","#ff4000","#ff0000","#ff0060"]}}}},
{"data":{"values":[
{"t":"Réponse","x":32,"y":18},{"t":"3.33","x":33,"y":47},{"t":"1.69","x":33,"y":119},{"t":"NaCl","x":35,"y":168},{"t":"0.05","x":33,"y":191},{"t":"Frying waste oil","x":223,"y":295},
{"t":"Réponse","x":376,"y":15},{"t":"46.35","x":379,"y":44},{"t":"25.68","x":379,"y":116},{"t":"5.00","x":377,"y":187},{"t":"Incubation time","x":401,"y":209},{"t":"NaCl","x":603,"y":291},
{"t":"Réponse","x":37,"y":376},{"t":"23.01","x":41,"y":404},{"t":"12.38","x":41,"y":477},{"t":"1.75","x":38,"y":548},{"t":"Incubation time","x":63,"y":566},{"t":"NaCl","x":265,"y":652},
{"t":"Réponse","x":376,"y":377},{"t":"3.10","x":377,"y":406},{"t":"1.61","x":376,"y":477},{"t":"-0.11","x":377,"y":549},{"t":"Incubation time","x":401,"y":611},{"t":"Inoculum size","x":553,"y":655}
]},"mark":{"type":"text","font":"Liberation Sans","fontSize":10.5,"color":"#333333","align":"center","baseline":"middle"},"encoding":{"longitude":{"field":"x","type":"quantitative"},"latitude":{"field":"y","type":"quantitative"},"text":{"field":"t"}}},
{"data":{"values":[{"t":"a","x":295,"y":25},{"t":"b","x":640,"y":27},{"t":"c","x":302,"y":389},{"t":"d","x":632,"y":390}]},"mark":{"type":"text","font":"Open Sans","fontWeight":"bold","fontSize":24,"color":"#000000","align":"center","baseline":"middle"},"encoding":{"longitude":{"field":"x","type":"quantitative"},"latitude":{"field":"y","type":"quantitative"},"text":{"field":"t"}}}
]}
